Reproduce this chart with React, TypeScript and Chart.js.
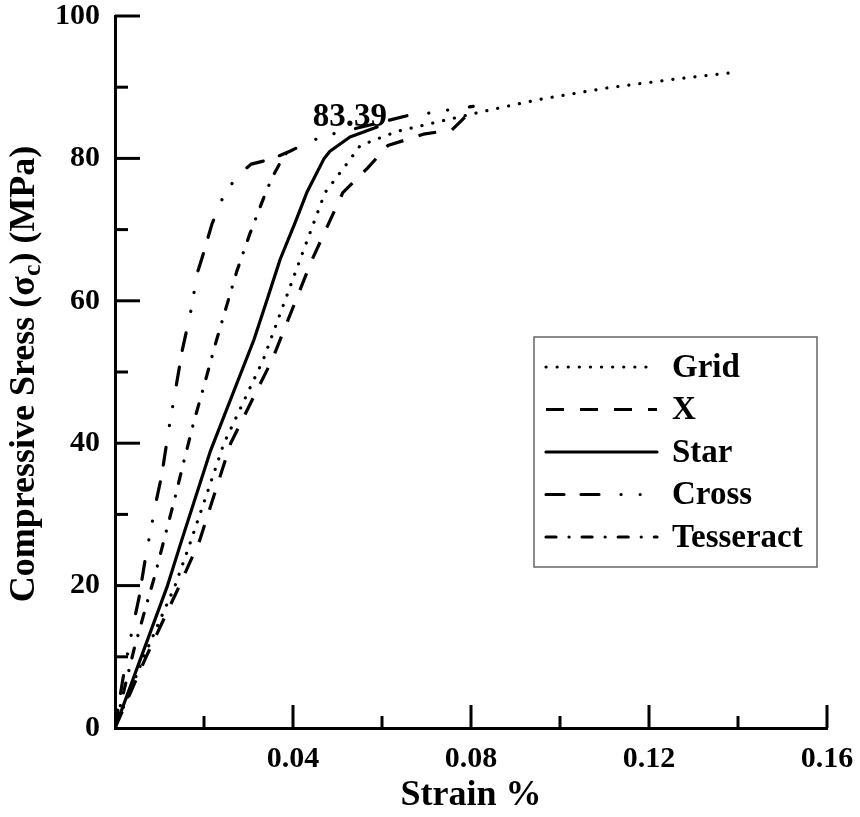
import { useEffect, useRef } from "react"
import { Chart, registerables } from "chart.js"

Chart.register(...registerables)

// series (strain %, stress MPa)
const gridStrain = [0, 0.0065, 0.0135, 0.0169, 0.0245, 0.0333, 0.0416, 0.0472, 0.0517, 0.0551, 0.0634, 0.0723, 0.0827, 0.0955, 0.1106, 0.1254, 0.1382]
const gridStress = [0, 10, 20, 26, 40, 51.7, 65.8, 75.2, 78.9, 81.8, 83.8, 85.1, 86.6, 88.3, 89.9, 91.1, 92]

const xStrain = [0, 0.007, 0.0145, 0.019, 0.026, 0.0353, 0.0443, 0.0512, 0.0567, 0.0613, 0.0693, 0.0757, 0.0783, 0.0795]
const xStress = [0, 10, 20, 26.3, 40, 51.7, 65.8, 75.2, 78.6, 81.8, 83.4, 84.0, 85.6, 86.3]

const starStrain = [0, 0.0118, 0.0148, 0.0215, 0.0312, 0.0341, 0.0371, 0.0405, 0.0431, 0.047, 0.0483, 0.0528, 0.0589]
const starStress = [0, 20, 26, 39, 54.5, 60, 65.8, 71, 75.2, 80, 81.0, 83.0, 84.4]

const crossStrain = [0, 0.0018, 0.0031, 0.004, 0.0054, 0.007, 0.0083, 0.0092, 0.0105, 0.0121, 0.0151, 0.0173, 0.0184, 0.0198, 0.0218, 0.0243, 0.0274, 0.0306, 0.0351, 0.0393, 0.0434, 0.0479, 0.0528, 0.0663, 0.0712, 0.0757, 0.0805]
const crossStress = [0, 7, 11.3, 14.2, 18.3, 24.5, 28.7, 31.7, 35.5, 42, 53, 59.3, 63.7, 66.5, 70.8, 74.6, 77.5, 79.2, 79.9, 81.0, 82.3, 83.3, 84.0, 86.1, 86.4, 86.9, 87.3]

const tessStrain = [0, 0.0025, 0.0043, 0.0067, 0.009, 0.0113, 0.0135, 0.0155, 0.0178, 0.0202, 0.0225, 0.0249, 0.0274, 0.0303, 0.0335, 0.0353, 0.0372, 0.0388]
const tessStress = [0, 6.5, 11.1, 16.5, 21.5, 27.1, 32.4, 37.5, 43.2, 48.5, 53.8, 58.9, 64.2, 69.4, 74.6, 77.3, 79.5, 81]

const seriesLabels = ["Grid", "X", "Star", "Cross", "Tesseract"]

const peakText = "83.39"
const peakStrain = 0.0528
const peakStress = 85.8

const xTitle = "Strain %"
const yTitleStart = "Compressive Sress (σ"
const yTitleSub = "c"
const yTitleEnd = ") (MPa)"

const SERIF = "'Times New Roman', 'Liberation Serif', serif"

const toPoints = (xs: number[], ys: number[]) => xs.map((x, i) => ({ x, y: ys[i] }))

// inward tick marks, major and minor
const tickMarkPlugin = {
  id: "tickMarks",
  afterDraw(chart: any) {
    const { ctx, chartArea } = chart
    const xs = chart.scales.x
    const ys = chart.scales.y
    ctx.save()
    ctx.strokeStyle = "#000"
    ctx.lineWidth = 3
    ctx.lineCap = "butt"
    xs.ticks.forEach((t: any) => {
      if (t.value === 0) return
      const px = xs.getPixelForValue(t.value)
      const len = Math.round(t.value * 100) % 4 === 0 ? 23 : 12
      ctx.beginPath()
      ctx.moveTo(px, chartArea.bottom)
      ctx.lineTo(px, chartArea.bottom - len)
      ctx.stroke()
    })
    ys.ticks.forEach((t: any) => {
      if (t.value === 0) return
      const py = ys.getPixelForValue(t.value)
      const len = Math.round(t.value) % 20 === 0 ? 25 : 13
      ctx.beginPath()
      ctx.moveTo(chartArea.left, py)
      ctx.lineTo(chartArea.left + len, py)
      ctx.stroke()
    })
    ctx.restore()
  },
}

// rotated y title with subscript c
const yTitlePlugin = {
  id: "yTitle",
  afterDraw(chart: any) {
    const { ctx, chartArea } = chart
    const size = 36
    const main = `bold ${size}px ${SERIF}`
    const sub = `bold ${Math.round(size * 0.72)}px ${SERIF}`
    ctx.save()
    ctx.fillStyle = "#000"
    ctx.textBaseline = "middle"
    ctx.textAlign = "left"
    ctx.font = main
    const w1 = ctx.measureText(yTitleStart).width
    const w3 = ctx.measureText(yTitleEnd).width
    ctx.font = sub
    const w2 = ctx.measureText(yTitleSub).width
    ctx.translate(25, (chartArea.top + chartArea.bottom) / 2 + 2)
    ctx.rotate(-Math.PI / 2)
    let x = -(w1 + w2 + w3) / 2
    ctx.font = main
    ctx.fillText(yTitleStart, x, 0)
    x += w1
    ctx.font = sub
    ctx.fillText(yTitleSub, x, size * 0.22)
    x += w2
    ctx.font = main
    ctx.fillText(yTitleEnd, x, 0)
    ctx.restore()
  },
}

// boxed legend inside the plot area
const legendPlugin = {
  id: "boxLegend",
  afterDraw(chart: any) {
    const ctx = chart.ctx
    const box = { left: 534, top: 337, width: 283, height: 230 }
    ctx.save()
    ctx.strokeStyle = "#666"
    ctx.lineWidth = 1.5
    ctx.strokeRect(box.left, box.top, box.width, box.height)
    chart.data.datasets.forEach((ds: any, i: number) => {
      const yy = box.top + 30 + i * 42.5
      ctx.strokeStyle = "#000"
      ctx.lineWidth = ds.borderWidth
      ctx.lineCap = ds.borderCapStyle || "butt"
      ctx.setLineDash(ds.borderDash || [])
      ctx.beginPath()
      ctx.moveTo(546, yy)
      ctx.lineTo(657, yy)
      ctx.stroke()
      ctx.setLineDash([])
      ctx.fillStyle = "#000"
      ctx.font = `bold 33px ${SERIF}`
      ctx.textAlign = "left"
      ctx.textBaseline = "middle"
      ctx.fillText(ds.label, 672, yy + 1)
    })
    ctx.restore()
  },
}

const peakPlugin = {
  id: "peakLabel",
  afterDraw(chart: any) {
    const { ctx } = chart
    ctx.save()
    ctx.fillStyle = "#000"
    ctx.font = `bold 33px ${SERIF}`
    ctx.textAlign = "center"
    ctx.textBaseline = "middle"
    ctx.fillText(peakText, chart.scales.x.getPixelForValue(peakStrain), chart.scales.y.getPixelForValue(peakStress))
    ctx.restore()
  },
}

export default function App() {
  const chartRef = useRef<HTMLCanvasElement>(null)
  const chartInstance = useRef<Chart | null>(null)

  useEffect(() => {
    if (!chartRef.current) return
    if (chartInstance.current) chartInstance.current.destroy()
    const ctx = chartRef.current.getContext("2d")
    if (!ctx) return

    const base = { showLine: true, pointRadius: 0, borderColor: "#000", borderWidth: 3.2, borderJoinStyle: "round" as const, fill: false }

    chartInstance.current = new Chart(ctx, {
      type: "scatter",
      data: {
        datasets: [
          { ...base, label: seriesLabels[0], data: toPoints(gridStrain, gridStress), borderDash: [0.1, 11], borderCapStyle: "round" },
          { ...base, label: seriesLabels[1], data: toPoints(xStrain, xStress), borderDash: [18, 16], borderCapStyle: "butt" },
          { ...base, label: seriesLabels[2], data: toPoints(starStrain, starStress), borderCapStyle: "round" },
          { ...base, label: seriesLabels[3], data: toPoints(crossStrain, crossStress), borderDash: [18, 17, 18, 22, 0.1, 19, 0.1, 22], borderCapStyle: "round" },
          { ...base, label: seriesLabels[4], data: toPoints(tessStrain, tessStress), borderDash: [10, 13, 0.1, 13], borderCapStyle: "round" },
        ] as any,
      },
      options: {
        animation: false,
        responsive: false,
        layout: { padding: { top: 16, right: 33, left: 0, bottom: 0 } },
        plugins: { legend: { display: false }, tooltip: { enabled: false } },
        scales: {
          x: {
            type: "linear",
            min: 0,
            max: 0.16,
            grid: { display: false },
            border: { display: true, color: "#000", width: 3 },
            ticks: {
              stepSize: 0.02,
              autoSkip: false,
              maxRotation: 0,
              padding: 7,
              color: "#000",
              font: { family: SERIF, size: 30, weight: "bold", lineHeight: 1.0667 },
              callback: (v: any) => {
                const n = Math.round(Number(v) * 100)
                return n > 0 && n % 4 === 0 ? Number(v).toFixed(2) : ""
              },
            },
            title: {
              display: true,
              text: xTitle,
              color: "#000",
              font: { family: SERIF, size: 36, weight: "bold" },
              padding: { top: 0, bottom: 0 },
            },
            afterFit: (s: any) => {
              s.height = 89
              s.paddingLeft = 0
              s.paddingRight = 0
            },
          },
          y: {
            type: "linear",
            min: 0,
            max: 100,
            grid: { display: false },
            border: { display: true, color: "#000", width: 3 },
            ticks: {
              stepSize: 10,
              autoSkip: false,
              padding: 7,
              color: "#000",
              font: { family: SERIF, size: 30, weight: "bold", lineHeight: 1.0667 },
              callback: (v: any) => (Math.round(Number(v)) % 20 === 0 ? String(v) : ""),
            },
            afterFit: (s: any) => {
              s.width = 115
              s.paddingTop = 0
              s.paddingBottom = 0
            },
          },
        },
      },
      plugins: [tickMarkPlugin, yTitlePlugin, legendPlugin, peakPlugin],
    })

    return () => {
      if (chartInstance.current) {
        chartInstance.current.destroy()
        chartInstance.current = null
      }
    }
  }, [])

  return (
    <div style={{ position: "fixed", left: 0, top: 0, width: 860, height: 817, background: "#fff" }}>
      <canvas ref={chartRef} width={860} height={817} />
    </div>
  )
}
